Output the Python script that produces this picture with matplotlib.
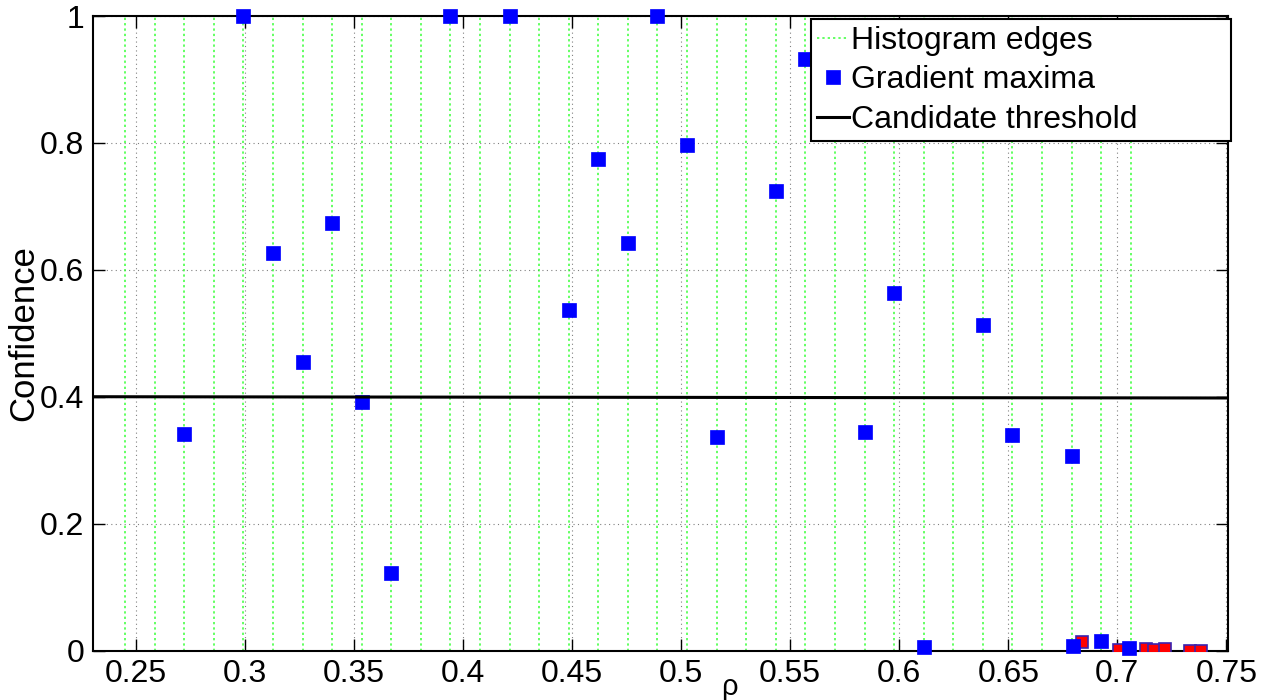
import matplotlib
matplotlib.use("Agg")
import matplotlib.pyplot as plt

# histogram bin edges (rho)
hist_edges = [0.2450, 0.2585, 0.2721, 0.2857, 0.2992, 0.3128, 0.3264, 0.3399,
              0.3535, 0.3671, 0.3806, 0.3942, 0.4077, 0.4213, 0.4349, 0.4484,
              0.4620, 0.4756, 0.4891, 0.5027, 0.5162, 0.5298, 0.5434, 0.5569,
              0.5705, 0.5841, 0.5976, 0.6112, 0.6248, 0.6383, 0.6519, 0.6654,
              0.6790, 0.6926, 0.7061]

# gradient maxima (blue)
grad_rho = [0.2721, 0.2992, 0.3128, 0.3264, 0.3399, 0.3535, 0.3671, 0.3942,
            0.4213, 0.4484, 0.4620, 0.4756, 0.4891, 0.5027, 0.5162, 0.5434,
            0.5569, 0.5841, 0.5976, 0.6112, 0.6383, 0.6519, 0.6790, 0.6795,
            0.6926, 0.7055]
grad_conf = [0.341, 1.000, 0.626, 0.454, 0.674, 0.391, 0.122, 1.000,
             1.000, 0.536, 0.774, 0.643, 1.000, 0.797, 0.337, 0.725,
             0.932, 0.344, 0.563, 0.006, 0.513, 0.340, 0.307, 0.007,
             0.015, 0.004]

# rejected maxima (red)
red_rho = [0.6836, 0.7010, 0.7132, 0.7170, 0.7219, 0.7332, 0.7383]
red_conf = [0.014, 0.001, 0.003, 0.001, 0.002, 0.000, 0.000]

# candidate threshold
thr_rho = [0.2301, 0.7508]
thr_conf = [0.400, 0.398]

xticks = [0.25, 0.3, 0.35, 0.4, 0.45, 0.5, 0.55, 0.6, 0.65, 0.7, 0.75]
xtick_labels = ["0.25", "0.3", "0.35", "0.4", "0.45", "0.5", "0.55", "0.6", "0.65", "0.7", "0.75"]
yticks = [0, 0.2, 0.4, 0.6, 0.8, 1.0]
ytick_labels = ["0", "0.2", "0.4", "0.6", "0.8", "1"]

plt.rcParams["font.family"] = ["Liberation Sans", "DejaVu Sans"]

fig = plt.figure(figsize=(12.73, 7.0), dpi=100)
ax = fig.add_axes([0.0728, 0.0707, 0.8919, 0.9064])

ax.set_xlim(0.2301, 0.7508)
ax.set_ylim(0, 1)
ax.set_xticks(xticks)
ax.set_xticklabels(xtick_labels)
ax.set_yticks(yticks)
ax.set_yticklabels(ytick_labels)
ax.grid(True, color="0.5", linestyle=(0, (1, 3)), linewidth=0.8)
ax.set_axisbelow(True)

for i, e in enumerate(hist_edges):
    ax.axvline(e, color="#22ff22", linestyle=(0, (1.5, 2)), linewidth=1.1, alpha=0.9,
               label="Histogram edges" if i == 0 else None, zorder=2)

ax.plot(red_rho, red_conf, "s", color="#ff0000", markeredgecolor="#3a22b0",
        markeredgewidth=1.2, markersize=9, zorder=3)
ax.plot(grad_rho, grad_conf, "s", color="#0000ff", markeredgecolor="#0000ff",
        markeredgewidth=0.5, markersize=9.8, label="Gradient maxima", zorder=4,
        clip_on=False)
ax.plot(thr_rho, thr_conf, "-", color="black", linewidth=2.2, label="Candidate threshold", zorder=5)

ax.tick_params(direction="in", length=8.5, width=1.0, top=True, right=True,
               labelsize=23, pad=6)
for s in ax.spines.values():
    s.set_linewidth(1.5)

ax.set_ylabel("Confidence", fontsize=25, family=["Liberation Sans Narrow", "Liberation Sans"])
ax.yaxis.set_label_coords(-0.046, 0.5)
ax.set_xlabel("ρ", fontsize=21)
ax.xaxis.set_label_coords(0.561, -0.035)

leg = ax.legend(loc="upper left",
                bbox_to_anchor=(811 / 1273, (700 - 141.7) / 700, (1231 - 811) / 1273, (141.7 - 19.3) / 700),
                bbox_transform=fig.transFigure, mode="expand", borderaxespad=0,
                fontsize=23, handlelength=1.0, handletextpad=0.05, borderpad=0.2,
                labelspacing=0.3, fancybox=False, framealpha=1, edgecolor="black")
leg.get_frame().set_linewidth(1.5)
leg.set_zorder(10)

fig.savefig("out.png", dpi=100)
